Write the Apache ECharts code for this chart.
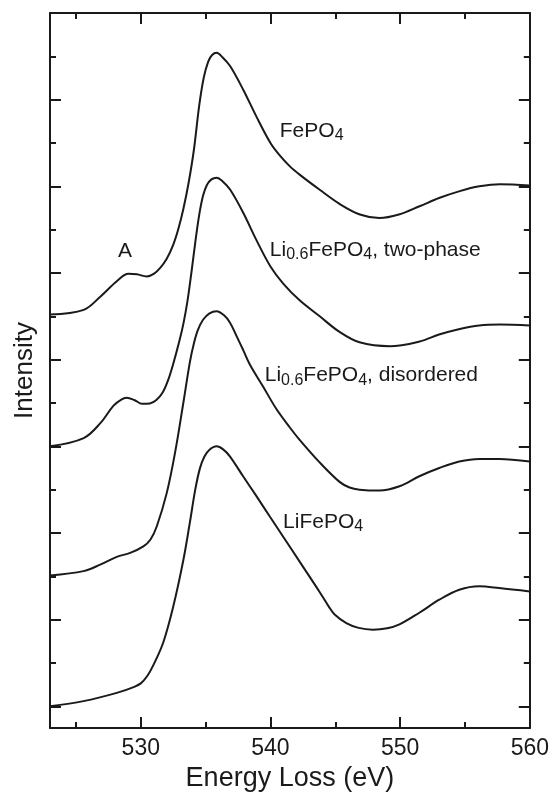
<!DOCTYPE html>
<html><head><meta charset="utf-8">
<script src="https://cdn.jsdelivr.net/npm/echarts@6/dist/echarts.min.js"></script>
<style>html,body{margin:0;padding:0;background:#fff}#c{width:552px;height:797px}</style>
</head><body><div id="c"></div>
<script>
// ---- data ----
const xMajorTicks = [530, 540, 550, 560];
const xMinorTicks = [525, 530, 535, 540, 545, 550, 555, 560];
const yMajorTicks = [0, 2, 4, 6, 8, 10, 12, 14, 16];
const yMinorTicks = [0, 1, 2, 3, 4, 5, 6, 7, 8, 9, 10, 11, 12, 13, 14, 15, 16];

const fepo4Energy = [523, 525.6, 526.9, 528.15, 529.05, 529.7, 530.46, 531.0, 531.5, 532.0, 532.5, 532.9, 533.3, 533.7, 534.1, 534.5, 534.85, 535.2, 535.5, 535.85, 536.3, 536.9, 537.9, 538.9, 540.0, 540.7, 541.5, 542.25, 543.8, 545.3, 546.9, 548.4, 549.9, 551.5, 553.0, 554.6, 556.1, 557.7, 560];
const fepo4Intensity = [9.04, 9.15, 9.46, 9.81, 9.98, 9.97, 9.92, 9.98, 10.12, 10.33, 10.65, 11.02, 11.5, 12.1, 12.85, 13.85, 14.5, 14.88, 15.03, 15.08, 14.98, 14.77, 14.23, 13.62, 13.0, 12.72, 12.46, 12.27, 11.92, 11.6, 11.35, 11.27, 11.35, 11.54, 11.73, 11.89, 12.0, 12.05, 12.02];

const twoPhaseEnergy = [523, 525.6, 526.9, 527.9, 528.5, 528.9, 529.5, 530.1, 530.7, 531.2, 531.7, 532.1, 532.5, 533.0, 533.3, 533.6, 533.9, 534.2, 534.5, 534.8, 535.1, 535.45, 535.85, 536.3, 536.9, 537.9, 538.9, 540.0, 541.0, 542.25, 543.8, 545.33, 546.87, 549.2, 551.5, 553.0, 554.6, 556.1, 557.7, 560];
const twoPhaseIntensity = [6.0, 6.19, 6.54, 6.94, 7.08, 7.12, 7.07, 6.98, 6.99, 7.07, 7.25, 7.52, 7.9, 8.46, 8.85, 9.35, 10.0, 10.7, 11.33, 11.78, 12.03, 12.16, 12.2, 12.12, 11.92, 11.39, 10.77, 10.15, 9.75, 9.37, 9.0, 8.64, 8.4, 8.31, 8.42, 8.58, 8.71, 8.79, 8.81, 8.79];

const disorderedEnergy = [523, 525.58, 526.87, 528.15, 529.18, 530.2, 530.75, 531.23, 532.0, 532.64, 533.28, 533.79, 534.1, 534.4, 534.8, 535.3, 535.85, 536.4, 536.87, 537.38, 537.9, 538.41, 539.43, 540.46, 541.48, 542.25, 543.79, 545.33, 546.1, 546.87, 548.41, 549.95, 551.48, 553.02, 554.56, 556.1, 557.64, 560];
const disorderedIntensity = [3.02, 3.12, 3.27, 3.45, 3.54, 3.69, 3.85, 4.15, 4.92, 5.85, 7.0, 7.95, 8.38, 8.68, 8.92, 9.07, 9.12, 9.03, 8.86, 8.55, 8.22, 7.89, 7.38, 6.86, 6.44, 6.15, 5.63, 5.18, 5.05, 5.0, 4.98, 5.08, 5.31, 5.5, 5.65, 5.71, 5.71, 5.65];

const lifepo4Energy = [523, 525.58, 528.15, 529.5, 530.0, 530.5, 530.97, 531.74, 532.51, 533.28, 533.79, 534.2, 534.55, 534.9, 535.3, 535.85, 536.35, 536.87, 537.89, 538.92, 539.95, 540.97, 542.25, 543.79, 544.5, 544.95, 545.85, 546.8, 547.89, 549.0, 549.95, 551.48, 553.02, 554.56, 556.1, 557.64, 560];
const lifepo4Intensity = [0, 0.12, 0.31, 0.45, 0.53, 0.7, 0.95, 1.48, 2.31, 3.37, 4.25, 5.0, 5.48, 5.76, 5.92, 6.0, 5.93, 5.77, 5.31, 4.85, 4.38, 3.92, 3.34, 2.64, 2.3, 2.12, 1.92, 1.81, 1.77, 1.8, 1.89, 2.16, 2.46, 2.69, 2.77, 2.73, 2.65];

// annotations: [rich text, energy, intensity, align]
const annotations = [
  ['{m|A}', 528.79, 10.5, 'center'],
  ['{m|FePO}{s|4}', 540.72, 13.27, 'left'],
  ['{m|Li}{s|0.6}{m|FePO}{s|4}{m|, two-phase}', 539.95, 10.53, 'left'],
  ['{m|Li}{s|0.6}{m|FePO}{s|4}{m|, disordered}', 539.56, 7.63, 'left'],
  ['{m|LiFePO}{s|4}', 540.97, 4.25, 'left']
];

const xRange = [523, 560];
const yRange = [-0.5, 16];

// ---- chart ----
const ink = '#1a1a1a';
const FONT = 'Liberation Sans, Arial, sans-serif';
function zip(a, b) { return a.map((v, i) => [v, b[i]]); }

function xAx(pos, ticks, len, showLine, labels) {
  return {
    type: 'value', position: pos, min: xRange[0], max: xRange[1],
    axisLine: { show: showLine, onZero: false, lineStyle: { color: ink, width: 2 } },
    axisTick: { show: true, inside: true, length: len, customValues: ticks, lineStyle: { color: ink, width: 2 } },
    axisLabel: labels ? { show: true, customValues: xMajorTicks, color: ink, fontSize: 23, fontFamily: FONT, margin: 9 } : { show: false },
    splitLine: { show: false },
    name: labels ? 'Energy Loss (eV)' : '',
    nameLocation: 'middle', nameGap: 35,
    nameTextStyle: { color: ink, fontSize: 27, fontFamily: FONT }
  };
}
function yAx(pos, ticks, len, showLine, named) {
  return {
    type: 'value', position: pos, min: yRange[0], max: yRange[1],
    axisLine: { show: showLine, onZero: false, lineStyle: { color: ink, width: 2 } },
    axisTick: { show: true, inside: true, length: len, customValues: ticks, lineStyle: { color: ink, width: 2 } },
    axisLabel: { show: false },
    splitLine: { show: false },
    name: named ? 'Intensity' : '',
    nameLocation: 'middle', nameGap: 12,
    nameTextStyle: { color: ink, fontSize: 26, fontFamily: FONT }
  };
}

const chart = echarts.init(document.getElementById('c'), null, { renderer: 'canvas' });
const lineSeries = (e, v) => ({
  type: 'line', data: zip(e, v), xAxisIndex: 0, yAxisIndex: 0,
  showSymbol: false, smooth: 0.35,
  lineStyle: { color: ink, width: 2 }, silent: true, animation: false
});

chart.setOption({
  animation: false,
  backgroundColor: '#fff',
  grid: { left: 50, right: 22, top: 13, bottom: 69 },
  xAxis: [
    xAx('bottom', xMajorTicks, 11, true, true),
    xAx('bottom', xMinorTicks, 6, false, false),
    xAx('top', xMajorTicks, 11, true, false),
    xAx('top', xMinorTicks, 6, false, false)
  ],
  yAxis: [
    yAx('left', yMajorTicks, 11, true, true),
    yAx('left', yMinorTicks, 6, false, false),
    yAx('right', yMajorTicks, 11, true, false),
    yAx('right', yMinorTicks, 6, false, false)
  ],
  series: [
    lineSeries(fepo4Energy, fepo4Intensity),
    lineSeries(twoPhaseEnergy, twoPhaseIntensity),
    lineSeries(disorderedEnergy, disorderedIntensity),
    lineSeries(lifepo4Energy, lifepo4Intensity)
  ]
});

const rich = {
  m: { fontSize: 21, fontFamily: FONT, fill: ink, color: ink, lineHeight: 25 },
  s: { fontSize: 16, fontFamily: FONT, fill: ink, color: ink, lineHeight: 16, verticalAlign: 'bottom' }
};
chart.setOption({
  graphic: annotations.map(a => {
    const p = chart.convertToPixel({ xAxisIndex: 0, yAxisIndex: 0 }, [a[1], a[2]]);
    return {
      type: 'text', x: p[0], y: p[1], silent: true,
      style: { text: a[0], rich: rich, align: a[3], verticalAlign: 'middle', fill: ink, fontSize: 21, fontFamily: FONT }
    };
  })
});
</script>
</body></html>
